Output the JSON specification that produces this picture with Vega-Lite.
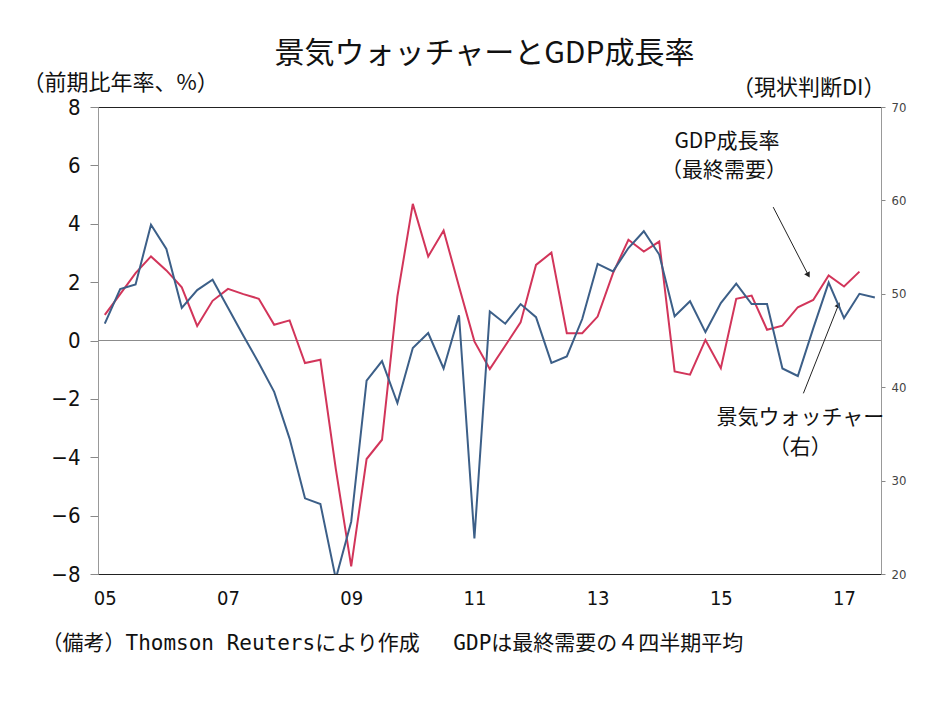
{
  "$schema": "https://vega.github.io/schema/vega-lite/v6.json",
  "width": 783,
  "height": 467,
  "autosize": {"type": "none"},
  "padding": {"left": 98, "top": 107, "right": 53, "bottom": 127},
  "background": "white",
  "config": {"view": {"stroke": "#222", "strokeWidth": 1}, "font": "Noto Sans CJK JP"},
  "title": {"text": "景気ウォッチャーとGDP成長率", "fontSize": 30, "font": "Noto Sans CJK JP", "fontWeight": "normal", "color": "#111", "anchor": "middle", "offset": 38, "dy": 36, "dx": -5},
  "data": {"values": [
    {"t": 2005.00, "gdp": 0.88, "dw": 46.8},
    {"t": 2005.25, "gdp": 1.59, "dw": 50.5},
    {"t": 2005.50, "gdp": 2.31, "dw": 51.0},
    {"t": 2005.75, "gdp": 2.88, "dw": 57.4},
    {"t": 2006.00, "gdp": 2.40, "dw": 54.8},
    {"t": 2006.25, "gdp": 1.82, "dw": 48.5},
    {"t": 2006.50, "gdp": 0.50, "dw": 50.4},
    {"t": 2006.75, "gdp": 1.36, "dw": 51.5},
    {"t": 2007.00, "gdp": 1.77, "dw": 48.5},
    {"t": 2007.25, "gdp": 1.59, "dw": 45.5},
    {"t": 2007.50, "gdp": 1.43, "dw": 42.6},
    {"t": 2007.75, "gdp": 0.54, "dw": 39.5},
    {"t": 2008.00, "gdp": 0.69, "dw": 34.5},
    {"t": 2008.25, "gdp": -0.77, "dw": 28.1},
    {"t": 2008.50, "gdp": -0.66, "dw": 27.5},
    {"t": 2008.75, "gdp": -4.4, "dw": 19.5},
    {"t": 2009.00, "gdp": -7.74, "dw": 25.6},
    {"t": 2009.25, "gdp": -4.06, "dw": 40.7},
    {"t": 2009.50, "gdp": -3.40, "dw": 42.8},
    {"t": 2009.75, "gdp": 1.51, "dw": 38.3},
    {"t": 2010.00, "gdp": 4.68, "dw": 44.2},
    {"t": 2010.25, "gdp": 2.88, "dw": 45.8},
    {"t": 2010.50, "gdp": 3.77, "dw": 42.0},
    {"t": 2010.75, "gdp": 1.85, "dw": 47.7},
    {"t": 2011.00, "gdp": -0.03, "dw": 23.8},
    {"t": 2011.25, "gdp": -0.98, "dw": 48.1},
    {"t": 2011.50, "gdp": -0.18, "dw": 46.8},
    {"t": 2011.75, "gdp": 0.62, "dw": 48.9},
    {"t": 2012.00, "gdp": 2.59, "dw": 47.5},
    {"t": 2012.25, "gdp": 3.01, "dw": 42.6},
    {"t": 2012.50, "gdp": 0.25, "dw": 43.3},
    {"t": 2012.75, "gdp": 0.25, "dw": 47.3},
    {"t": 2013.00, "gdp": 0.82, "dw": 53.2},
    {"t": 2013.25, "gdp": 2.31, "dw": 52.4},
    {"t": 2013.50, "gdp": 3.45, "dw": 54.9},
    {"t": 2013.75, "gdp": 3.05, "dw": 56.7},
    {"t": 2014.00, "gdp": 3.39, "dw": 54.2},
    {"t": 2014.25, "gdp": -1.06, "dw": 47.6},
    {"t": 2014.50, "gdp": -1.17, "dw": 49.2},
    {"t": 2014.75, "gdp": 0.02, "dw": 45.9},
    {"t": 2015.00, "gdp": -0.95, "dw": 49.0},
    {"t": 2015.25, "gdp": 1.43, "dw": 51.1},
    {"t": 2015.50, "gdp": 1.54, "dw": 48.9},
    {"t": 2015.75, "gdp": 0.37, "dw": 48.9},
    {"t": 2016.00, "gdp": 0.51, "dw": 42.0},
    {"t": 2016.25, "gdp": 1.14, "dw": 41.2},
    {"t": 2016.50, "gdp": 1.39, "dw": 46.3},
    {"t": 2016.75, "gdp": 2.23, "dw": 51.2},
    {"t": 2017.00, "gdp": 1.85, "dw": 47.4},
    {"t": 2017.25, "gdp": 2.36, "dw": 50.0},
    {"t": 2017.50, "gdp": null, "dw": 49.6}
  ]},
  "layer": [
    {
      "layer": [
        {
          "data": {"values": [{"v": 0}]},
          "mark": {"type": "rule", "color": "#8c8c8c", "strokeWidth": 1},
          "encoding": {
            "y": {"field": "v", "type": "quantitative", "scale": {"domain": [-8, 8], "nice": false},
              "axis": {"values": [-8, -6, -4, -2, 0, 2, 4, 6, 8], "grid": false, "tickSize": 8, "tickColor": "#888", "domainColor": "#999",
                "labelFont": "Liberation Sans Narrow, DejaVu Sans Condensed, sans-serif", "labelFontSize": 22, "labelColor": "#111", "labelPadding": 10,
                "title": "（前期比年率、%）", "titleAngle": 0, "titleAlign": "left", "titleBaseline": "middle", "titleX": -76, "titleY": -25,
                "titleFont": "Noto Sans CJK JP", "titleFontSize": 22, "titleFontWeight": "normal", "titleColor": "#111"}}
          }
        },
        {
          "mark": {"type": "line", "color": "#d2355a", "strokeWidth": 2, "clip": true},
          "encoding": {
            "x": {"field": "t", "type": "quantitative", "scale": {"domain": [2004.89, 2017.6], "nice": false, "zero": false},
              "axis": {"values": [2005, 2007, 2009, 2011, 2013, 2015, 2017], "labelExpr": "substring(toString(datum.value), 2)", "ticks": false, "grid": false,
                "domainColor": "#222", "labelFont": "Liberation Sans Narrow, DejaVu Sans Condensed, sans-serif", "labelFontSize": 20, "labelColor": "#111", "labelPadding": 14,
                "title": "（備考）Thomson Reutersにより作成　 GDPは最終需要の４四半期平均", "titleAnchor": "start", "titleAlign": "left", "titleBaseline": "middle",
                "titleX": -57, "titleY": 69, "titleFont": "DejaVu Sans Mono, Noto Sans CJK JP", "titleFontSize": 21, "titleFontWeight": "normal", "titleColor": "#111"}},
            "y": {"field": "gdp", "type": "quantitative", "scale": {"domain": [-8, 8], "nice": false}}
          }
        },
        {
          "data": {"values": [
            {"t": 2015.10, "v": 6.80, "label": "GDP成長率"},
            {"t": 2015.05, "v": 5.81, "label": "（最終需要）"},
            {"t": 2016.29, "v": -2.65, "label": "景気ウォッチャー"},
            {"t": 2016.29, "v": -3.68, "label": "（右）"}
          ]},
          "mark": {"type": "text", "fontSize": 21, "font": "Noto Sans CJK JP", "color": "#111", "align": "center", "baseline": "middle"},
          "encoding": {
            "x": {"field": "t", "type": "quantitative", "scale": {"domain": [2004.89, 2017.6], "nice": false, "zero": false}},
            "y": {"field": "v", "type": "quantitative", "scale": {"domain": [-8, 8], "nice": false}},
            "text": {"field": "label"}
          }
        },
        {
          "data": {"values": [
            {"name": "gdp", "t": 2015.85, "v": 4.57, "t2": 2016.42, "v2": 2.24},
            {"name": "dw", "t": 2016.34, "v": -1.81, "t2": 2016.91, "v2": 1.22}
          ]},
          "mark": {"type": "rule", "color": "#222", "strokeWidth": 1},
          "encoding": {
            "x": {"field": "t", "type": "quantitative", "scale": {"domain": [2004.89, 2017.6], "nice": false, "zero": false}},
            "y": {"field": "v", "type": "quantitative", "scale": {"domain": [-8, 8], "nice": false}},
            "x2": {"field": "t2"},
            "y2": {"field": "v2"}
          }
        },
        {
          "data": {"values": [{"name": "gdp", "t": 2016.42, "v": 2.24}]},
          "mark": {"type": "point", "shape": "triangle-up", "filled": true, "color": "#222", "size": 40, "angle": 151, "opacity": 1},
          "encoding": {
            "x": {"field": "t", "type": "quantitative", "scale": {"domain": [2004.89, 2017.6], "nice": false, "zero": false}},
            "y": {"field": "v", "type": "quantitative", "scale": {"domain": [-8, 8], "nice": false}}
          }
        },
        {
          "data": {"values": [{"name": "dw", "t": 2016.91, "v": 1.22}]},
          "mark": {"type": "point", "shape": "triangle-up", "filled": true, "color": "#222", "size": 40, "angle": 22, "opacity": 1},
          "encoding": {
            "x": {"field": "t", "type": "quantitative", "scale": {"domain": [2004.89, 2017.6], "nice": false, "zero": false}},
            "y": {"field": "v", "type": "quantitative", "scale": {"domain": [-8, 8], "nice": false}}
          }
        }
      ]
    },
    {
      "mark": {"type": "line", "color": "#3c5f88", "strokeWidth": 2, "clip": true},
      "encoding": {
        "x": {"field": "t", "type": "quantitative", "scale": {"domain": [2004.89, 2017.6], "nice": false, "zero": false}},
        "y": {"field": "dw", "type": "quantitative", "scale": {"domain": [20, 70], "nice": false, "zero": false},
          "axis": {"orient": "right", "values": [20, 30, 40, 50, 60, 70], "grid": false, "tickSize": 4, "tickColor": "#888", "domainColor": "#999",
            "labelFont": "Liberation Sans Narrow, DejaVu Sans Condensed, sans-serif", "labelFontSize": 13, "labelColor": "#444", "labelPadding": 6,
            "title": "（現状判断DI）", "titleAngle": 0, "titleAlign": "right", "titleBaseline": "middle", "titleX": 4, "titleY": -20,
            "titleFont": "Noto Sans CJK JP", "titleFontSize": 22, "titleFontWeight": "normal", "titleColor": "#111"}}
      }
    }
  ],
  "resolve": {"scale": {"y": "independent"}}
}
